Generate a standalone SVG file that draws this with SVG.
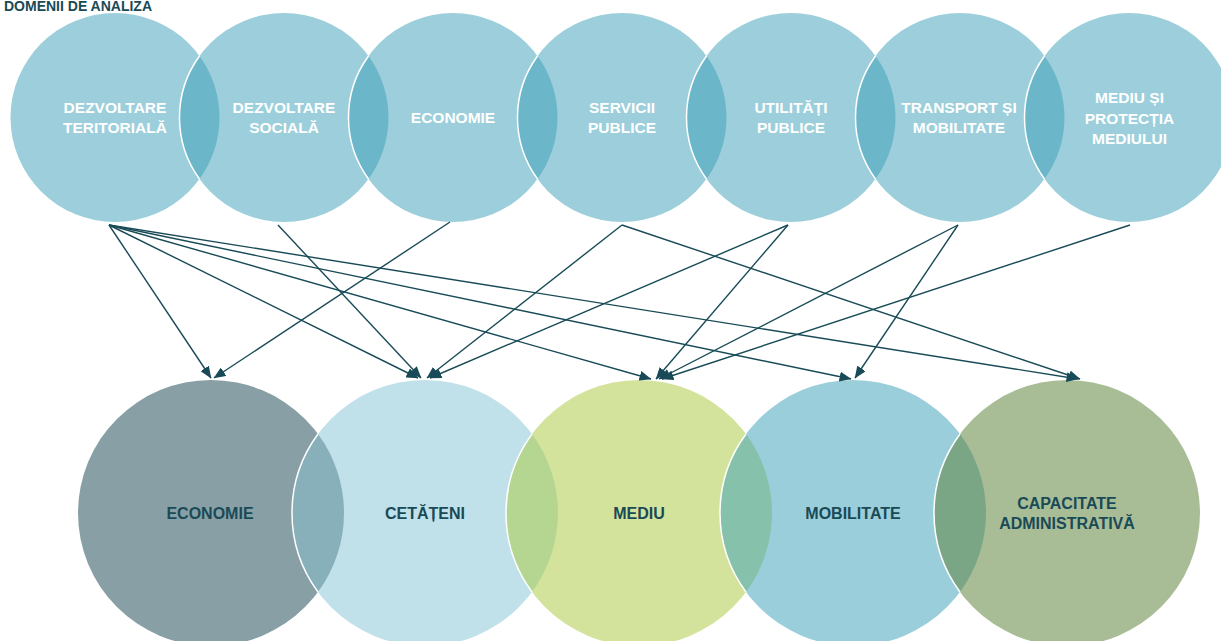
<svg xmlns="http://www.w3.org/2000/svg" width="1221" height="641" viewBox="0 0 1221 641">
<style>
.tc{fill:#9ccfdb}
.lt{fill:#6cb6ca}
.wa{fill:none;stroke:#ffffff;stroke-width:1.5}
.tt{font-family:"Liberation Sans",Arial,sans-serif;font-weight:bold;font-size:15.5px;fill:#ffffff;text-anchor:middle}
.bt{font-family:"Liberation Sans",Arial,sans-serif;font-weight:bold;font-size:16px;fill:#1a4a56;text-anchor:middle}
.ttl{font-family:"Liberation Sans",Arial,sans-serif;font-weight:bold;font-size:14px;fill:#1a4a56}
.cn{fill:none;stroke:#184b57;stroke-width:1.4;marker-end:url(#ah)}
</style>
<defs>
<marker id="ah" markerUnits="userSpaceOnUse" markerWidth="12" markerHeight="10" refX="11.5" refY="5" orient="auto" viewBox="0 0 12 10">
<path d="M0,0 L12,5 L0,10 Z" fill="#184b57"/>
</marker>
</defs>
<rect width="1221" height="641" fill="#ffffff"/>
<text class="ttl" x="4" y="11">DOMENII DE ANALIZĂ</text>

<g id="top-dezvoltare-teritoriala">
<circle class="tc" cx="115" cy="117.5" r="104.5"/>
<text class="tt" x="115" y="113">DEZVOLTARE</text>
<text class="tt" x="115" y="133">TERITORIALĂ</text>
</g>
<g id="top-dezvoltare-sociala">
<circle class="tc" cx="284" cy="117.5" r="104.5"/>
<path class="lt" d="M199.5,56 A104.5,104.5 0 0 1 199.5,179 A104.5,104.5 0 0 1 199.5,56 Z"/>
<path class="wa" d="M199.5,179 A104.5,104.5 0 0 1 199.5,56"/>
<text class="tt" x="284" y="113">DEZVOLTARE</text>
<text class="tt" x="284" y="133">SOCIALĂ</text>
</g>
<g id="top-economie">
<circle class="tc" cx="453" cy="117.5" r="104.5"/>
<path class="lt" d="M368.5,56 A104.5,104.5 0 0 1 368.5,179 A104.5,104.5 0 0 1 368.5,56 Z"/>
<path class="wa" d="M368.5,179 A104.5,104.5 0 0 1 368.5,56"/>
<text class="tt" x="453" y="123">ECONOMIE</text>
</g>
<g id="top-servicii-publice">
<circle class="tc" cx="622" cy="117.5" r="104.5"/>
<path class="lt" d="M537.5,56 A104.5,104.5 0 0 1 537.5,179 A104.5,104.5 0 0 1 537.5,56 Z"/>
<path class="wa" d="M537.5,179 A104.5,104.5 0 0 1 537.5,56"/>
<text class="tt" x="622" y="113">SERVICII</text>
<text class="tt" x="622" y="133">PUBLICE</text>
</g>
<g id="top-utilitati-publice">
<circle class="tc" cx="791" cy="117.5" r="104.5"/>
<path class="lt" d="M706.5,56 A104.5,104.5 0 0 1 706.5,179 A104.5,104.5 0 0 1 706.5,56 Z"/>
<path class="wa" d="M706.5,179 A104.5,104.5 0 0 1 706.5,56"/>
<text class="tt" x="791" y="113">UTILITĂȚI</text>
<text class="tt" x="791" y="133">PUBLICE</text>
</g>
<g id="top-transport-mobilitate">
<circle class="tc" cx="960" cy="117.5" r="104.5"/>
<path class="lt" d="M875.5,56 A104.5,104.5 0 0 1 875.5,179 A104.5,104.5 0 0 1 875.5,56 Z"/>
<path class="wa" d="M875.5,179 A104.5,104.5 0 0 1 875.5,56"/>
<text class="tt" x="959" y="113">TRANSPORT ȘI</text>
<text class="tt" x="959" y="133">MOBILITATE</text>
</g>
<g id="top-mediu-protectia">
<circle class="tc" cx="1129" cy="117.5" r="104.5"/>
<path class="lt" d="M1044.5,56 A104.5,104.5 0 0 1 1044.5,179 A104.5,104.5 0 0 1 1044.5,56 Z"/>
<path class="wa" d="M1044.5,179 A104.5,104.5 0 0 1 1044.5,56"/>
<text class="tt" x="1129.5" y="103">MEDIU ȘI</text>
<text class="tt" x="1129.5" y="123.5">PROTECȚIA</text>
<text class="tt" x="1129.5" y="144">MEDIULUI</text>
</g>

<g id="bottom-economie">
<circle cx="211" cy="513" r="133" fill="#88a0a5"/>
<text class="bt" x="210" y="519">ECONOMIE</text>
</g>
<g id="bottom-cetateni">
<circle cx="425" cy="513" r="133" fill="#c0e1ea"/>
<path d="M318,434 A133,133 0 0 1 318,592 A133,133 0 0 1 318,434 Z" fill="#88b0bb"/>
<path class="wa" d="M318,592 A133,133 0 0 1 318,434"/>
<text class="bt" x="425" y="519">CETĂȚENI</text>
</g>
<g id="bottom-mediu">
<circle cx="639" cy="513" r="133" fill="#d4e39b"/>
<path d="M532,434 A133,133 0 0 1 532,592 A133,133 0 0 1 532,434 Z" fill="#b5d691"/>
<path class="wa" d="M532,592 A133,133 0 0 1 532,434"/>
<text class="bt" x="639" y="519">MEDIU</text>
</g>
<g id="bottom-mobilitate">
<circle cx="853" cy="513" r="133" fill="#9bcedb"/>
<path d="M746,434 A133,133 0 0 1 746,592 A133,133 0 0 1 746,434 Z" fill="#86c1ab"/>
<path class="wa" d="M746,592 A133,133 0 0 1 746,434"/>
<text class="bt" x="853" y="519">MOBILITATE</text>
</g>
<g id="bottom-capacitate-administrativa">
<circle cx="1067" cy="513" r="133" fill="#a8bd96"/>
<path d="M960,434 A133,133 0 0 1 960,592 A133,133 0 0 1 960,434 Z" fill="#7aa686"/>
<path class="wa" d="M960,592 A133,133 0 0 1 960,434"/>
<text class="bt" x="1067" y="508.5">CAPACITATE</text>
<text class="bt" x="1067" y="529">ADMINISTRATIVĂ</text>
</g>

<g id="connectors">
<line class="cn" x1="109" y1="225" x2="211" y2="378"/>
<line class="cn" x1="109" y1="225" x2="418" y2="378"/>
<line class="cn" x1="109" y1="225" x2="651" y2="379"/>
<line class="cn" x1="109" y1="225" x2="851" y2="379"/>
<line class="cn" x1="109" y1="225" x2="1078" y2="379"/>
<line class="cn" x1="278" y1="225" x2="421" y2="378"/>
<line class="cn" x1="450" y1="222" x2="214" y2="378"/>
<line class="cn" x1="622" y1="225" x2="427" y2="378"/>
<line class="cn" x1="622" y1="225" x2="1080" y2="379"/>
<line class="cn" x1="788" y1="225" x2="430" y2="378"/>
<line class="cn" x1="788" y1="225" x2="656" y2="379"/>
<line class="cn" x1="958" y1="225" x2="659" y2="379"/>
<line class="cn" x1="958" y1="225" x2="855" y2="378"/>
<line class="cn" x1="1130" y1="225" x2="662" y2="379"/>
</g>
</svg>
